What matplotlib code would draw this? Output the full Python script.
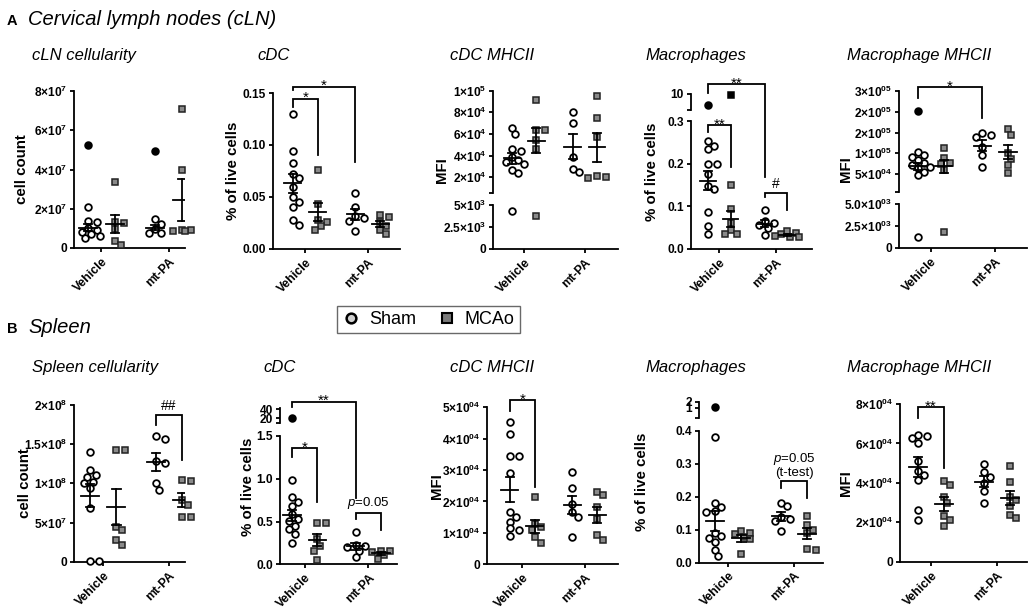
#!/usr/bin/env python3
"""Grouped scatter panels (mean +/- SEM) for cLN and spleen myeloid cells."""

import numpy as np
import matplotlib

matplotlib.use("Agg")
import matplotlib.pyplot as plt  # noqa: E402
from matplotlib.lines import Line2D  # noqa: E402
from matplotlib.ticker import NullLocator  # noqa: E402

plt.rcParams["font.family"] = ["Liberation Sans", "DejaVu Sans"]
plt.rcParams["mathtext.fontset"] = "custom"
plt.rcParams["mathtext.rm"] = "Liberation Sans:bold"
plt.rcParams["mathtext.bf"] = "Liberation Sans:bold"
plt.rcParams["mathtext.it"] = "Liberation Sans:italic"
plt.rcParams["mathtext.default"] = "rm"

W, H = 1030, 609
LW = 1.3

groups = ["Vehicle", "mt-PA"]
series = ["Sham", "MCAo"]

# ---- A: cervical lymph nodes. each list = [Vehicle, mt-PA]
cln_cells_sham = [[2.1e7, 1.4e7, 1.3e7, 1.0e7, 0.9e7, 0.8e7, 0.7e7, 0.6e7, 0.5e7],
                  [1.48e7, 1.22e7, 0.95e7, 0.78e7, 0.75e7]]
cln_cells_mcao = [[3.35e7, 1.34e7, 1.29e7, 0.95e7, 0.37e7, 0.15e7],
                  [7.1e7, 4.0e7, 0.9e7, 0.9e7, 0.85e7, 0.85e7]]
# filled (excluded) points: sham-veh, mcao-veh, sham-mtpa, mcao-mtpa
cln_cells_excl = [[5.25e7], [], [4.95e7], []]

cln_cdc_sham = [[0.130, 0.094, 0.083, 0.072, 0.068, 0.060, 0.050, 0.045, 0.040, 0.028, 0.023],
                [0.054, 0.040, 0.032, 0.030, 0.027, 0.017]]
cln_cdc_mcao = [[0.076, 0.043, 0.028, 0.026, 0.022, 0.018],
                [0.033, 0.031, 0.026, 0.022, 0.018, 0.014]]

cln_cdc_mhc_sham = [[6.6e4, 6.0e4, 4.6e4, 4.4e4, 3.9e4, 3.6e4, 3.4e4, 3.2e4, 2.7e4, 2.4e4, 4.3e3],
                    [8.0e4, 7.0e4, 3.9e4, 2.75e4, 2.5e4]]
cln_cdc_mhc_mcao = [[9.1e4, 6.4e4, 6.4e4, 5.4e4, 4.6e4, 3.7e3],
                    [9.5e4, 7.5e4, 5.75e4, 2.1e4, 2.0e4, 1.9e4]]

cln_mac_sham = [[0.252, 0.242, 0.234, 0.200, 0.200, 0.175, 0.148, 0.140, 0.086, 0.055, 0.034],
                [0.092, 0.065, 0.060, 0.057, 0.050, 0.032]]
cln_mac_mcao = [[0.150, 0.094, 0.060, 0.044, 0.036, 0.034],
                [0.042, 0.038, 0.035, 0.030, 0.028, 0.028]]
cln_mac_excl = [[4.0], [9.4], [], []]

cln_mac_mhc_sham = [[1.04e5, 9.6e4, 9.2e4, 8.4e4, 7.6e4, 7.2e4, 6.8e4, 6.4e4, 5.6e4, 4.8e4, 1.2e3],
                    [1.48e5, 1.44e5, 1.40e5, 1.16e5, 9.6e4, 6.8e4]]
cln_mac_mhc_mcao = [[1.12e5, 8.8e4, 7.7e4, 7.4e4, 6.0e4, 1.85e3],
                    [1.58e5, 1.44e5, 1.0e5, 8.6e4, 7.2e4, 5.3e4]]
cln_mac_mhc_excl = [[2.03e5], [], [], []]

# ---- B: spleen
spl_cells_sham = [[1.40e8, 1.17e8, 1.11e8, 1.085e8, 1.02e8, 1.0e8, 0.936e8, 0.68e8, 0.01e8, 0.01e8],
                  [1.60e8, 1.57e8, 1.28e8, 1.26e8, 1.0e8, 0.92e8]]
spl_cells_mcao = [[1.43e8, 1.43e8, 0.447e8, 0.40e8, 0.277e8, 0.213e8],
                  [1.04e8, 1.03e8, 0.79e8, 0.72e8, 0.575e8, 0.57e8]]

spl_cdc_sham = [[0.99, 0.79, 0.73, 0.68, 0.59, 0.53, 0.51, 0.45, 0.41, 0.36, 0.25],
                [0.38, 0.22, 0.21, 0.20, 0.16, 0.09]]
spl_cdc_mcao = [[0.485, 0.485, 0.29, 0.215, 0.16, 0.05],
                [0.16, 0.155, 0.147, 0.11, 0.06]]
spl_cdc_excl = [[21.0], [], [], []]

spl_cdc_mhc_sham = [[4.54e4, 4.15e4, 3.45e4, 3.45e4, 2.9e4, 1.68e4, 1.52e4, 1.36e4, 1.15e4, 1.09e4, 0.9e4],
                    [2.95e4, 2.42e4, 1.92e4, 1.68e4, 1.52e4, 0.88e4]]
spl_cdc_mhc_mcao = [[2.13e4, 1.28e4, 1.2e4, 1.09e4, 0.86e4, 0.69e4],
                    [2.31e4, 2.2e4, 1.82e4, 1.43e4, 0.93e4, 0.77e4]]

spl_mac_sham = [[0.38, 0.182, 0.167, 0.155, 0.152, 0.09, 0.08, 0.075, 0.061, 0.037, 0.019],
                [0.18, 0.17, 0.138, 0.132, 0.125, 0.095]]
spl_mac_mcao = [[0.097, 0.09, 0.085, 0.078, 0.07, 0.025],
                [0.142, 0.113, 0.098, 0.09, 0.042, 0.037]]
spl_mac_excl = [[1.2], [], [], []]

spl_mac_mhc_sham = [[6.45e4, 6.4e4, 6.3e4, 6.0e4, 5.1e4, 4.6e4, 4.4e4, 4.15e4, 2.6e4, 2.1e4],
                    [4.95e4, 4.55e4, 4.3e4, 4.0e4, 3.6e4, 3.0e4]]
spl_mac_mhc_mcao = [[4.1e4, 3.9e4, 3.3e4, 2.98e4, 2.3e4, 2.1e4, 1.8e4],
                    [4.85e4, 4.06e4, 3.3e4, 3.15e4, 2.82e4, 2.37e4, 2.2e4]]

NO_EXCL = [[], [], [], []]

# x positions: sham-veh, mcao-veh, sham-mtpa, mcao-mtpa
POS = [0.0, 1.0, 2.5, 3.5]
TICKS = [0.5, 3.0]


def sci(m, e):
    return f"{m}×10$^{{{e}}}$"


PVAL = "$\\mathit{p}$=0.05"

# layout in pixels (x from left, y from top); broken axes use knots (data, px above bottom)
PANELS = [
    dict(sham=cln_cells_sham, mcao=cln_cells_mcao, excl=cln_cells_excl,
         left=74, right=185, ybot=248, ytop=91, ymax=8e7,
         yticks=[0, 2e7, 4e7, 6e7, 8e7],
         ylabels=["0", sci(2, 7), sci(4, 7), sci(6, 7), sci(8, 7)],
         ylabel="cell count", ylab_x=22, title="cLN cellularity", title_xy=(32, 60),
         xlim=(-0.52, 3.61), brackets=[]),
    dict(sham=cln_cdc_sham, mcao=cln_cdc_mcao, excl=NO_EXCL,
         left=273, right=400, ybot=249, ytop=93, ymax=0.15,
         yticks=[0, 0.05, 0.10, 0.15], ylabels=["0.00", "0.05", "0.10", "0.15"],
         ylabel="% of live cells", ylab_x=233, title="cDC", title_xy=(257, 60),
         xlim=(-0.8, 4.3),
         brackets=[(0, 1, 0.1446, 0.137, 0.090, "*"), (0, 2, 0.156, 0.1526, 0.084, "*")]),
    dict(sham=cln_cdc_mhc_sham, mcao=cln_cdc_mhc_mcao, excl=NO_EXCL,
         left=493, right=618, ybot=249,
         knots=([0, 5e3, 5.5e3, 1e5], [0, 44, 56, 158.3]), gap=(5e3, 5.5e3),
         yticks=[0, 2.5e3, 5e3, 5.5e3, 2e4, 4e4, 6e4, 8e4, 1e5],
         ylabels=["0", sci(2.5, 3), sci(5, 3), "", sci(2, 4), sci(4, 4), sci(6, 4),
                  sci(8, 4), sci(1, 5)],
         ylabel="MFI", ylab_x=442, title="cDC MHCII", title_xy=(450, 60),
         xlim=(-0.78, 4.36), brackets=[]),
    dict(sham=cln_mac_sham, mcao=cln_mac_mcao, excl=cln_mac_excl,
         left=691, right=812, ybot=249,
         knots=([0, 0.3, 1, 10], [0, 128, 139, 155]), gap=(0.3, 1),
         yticks=[0, 0.1, 0.2, 0.3, 1, 10], ylabels=["0.0", "0.1", "0.2", "0.3", "", "10"],
         ylabel="% of live cells", ylab_x=652, title="Macrophages", title_xy=(645, 60),
         xlim=(-0.75, 4.6),
         brackets=[(0, 2, 15.6, 10.56, 0.169, "**"), (0, 1, 0.2906, 0.274, 0.192, "**"),
                   (2, 3, 0.131, 0.122, 0.0914, "#")]),
    dict(sham=cln_mac_mhc_sham, mcao=cln_mac_mhc_mcao, excl=cln_mac_mhc_excl,
         left=899, right=1027, ybot=248,
         knots=([0, 5e3, 5.5e3, 2.5e5], [0, 44, 55.5, 157]), gap=(5e3, 5.5e3),
         yticks=[0, 2.5e3, 5e3, 5.5e3, 5e4, 1e5, 1.5e5, 2e5, 2.5e5],
         ylabels=["0", sci(2.5, "03"), sci("5.0", "03"), "", sci(5, "04"), sci(1, "05"),
                  sci(2, "05"), sci(2, "05"), sci(3, "05")],
         ylabel="MFI", ylab_x=846, title="Macrophage MHCII", title_xy=(847, 60),
         xlim=(-0.74, 4.24), brackets=[(0, 2, 2.596e5, 2.33e5, 1.85e5, "*")]),
    dict(sham=spl_cells_sham, mcao=spl_cells_mcao, excl=NO_EXCL,
         left=74, right=185, ybot=561.7, ytop=405, ymax=2e8,
         yticks=[0, 5e7, 1e8, 1.5e8, 2e8],
         ylabels=["0", sci(5, 7), sci(1, 8), sci(1.5, 8), sci(2, 8)],
         ylabel="cell count", ylab_x=25, title="Spleen cellularity", title_xy=(32, 371.7),
         xlim=(-0.61, 3.61), brackets=[(2, 3, 1.872e8, 1.745e8, 1.30e8, "##")]),
    dict(sham=spl_cdc_sham, mcao=spl_cdc_mcao, excl=spl_cdc_excl,
         left=280, right=397, ybot=564.3,
         knots=([0, 1.5, 10, 42], [0, 128.3, 141.5, 155.9]), gap=(1.5, 10),
         yticks=[0, 0.5, 1.0, 1.5, 10, 20, 40],
         ylabels=["0.0", "0.5", "1.0", "1.5", "", "20", "40"],
         ylabel="% of live cells", ylab_x=248, title="cDC", title_xy=(263, 371.7),
         xlim=(-0.47, 4.13),
         brackets=[(0, 2, 56.9, 45.8, 0.772, "**"), (0, 1, 1.356, 1.258, 0.732, "*"),
                   (2, 3, 0.596, 0.526, 0.401, PVAL)]),
    dict(sham=spl_cdc_mhc_sham, mcao=spl_cdc_mhc_mcao, excl=NO_EXCL,
         left=487, right=618, ybot=564.3, ytop=407.3, ymax=5e4,
         yticks=[0, 1e4, 2e4, 3e4, 4e4, 5e4],
         ylabels=["0"] + [sci(k, "04") for k in range(1, 6)],
         ylabel="MFI", ylab_x=437, title="cDC MHCII", title_xy=(450, 371.7),
         xlim=(-0.92, 4.34), brackets=[(0, 1, 5.23e4, 4.89e4, 2.47e4, "*")]),
    dict(sham=spl_mac_sham, mcao=spl_mac_mcao, excl=spl_mac_excl,
         left=699, right=823, ybot=562.5,
         knots=([0, 0.4, 0.5, 1, 2], [0, 131.8, 144.2, 154.8, 160.8]), gap=(0.4, 0.5),
         yticks=[0, 0.1, 0.2, 0.3, 0.4, 0.5, 1, 2],
         ylabels=["0.0", "0.1", "0.2", "0.3", "0.4", "", "1", "2"],
         ylabel="% of live cells", ylab_x=642, title="Macrophages", title_xy=(645, 371.7),
         xlim=(-0.61, 4.1),
         brackets=[(2, 3, 0.246, 0.226, 0.195, PVAL + "\n(t-test)")]),
    dict(sham=spl_mac_mhc_sham, mcao=spl_mac_mhc_mcao, excl=NO_EXCL,
         left=900, right=1027, ybot=561.7, ytop=404, ymax=8e4,
         yticks=[0, 2e4, 4e4, 6e4, 8e4],
         ylabels=["0"] + [sci(k, "04") for k in (2, 4, 6, 8)],
         ylabel="MFI", ylab_x=846, title="Macrophage MHCII", title_xy=(847, 371.7),
         xlim=(-0.68, 4.14), brackets=[(0, 1, 7.83e4, 7.27e4, 4.73e4, "**")]),
]

SHAM_STYLE = dict(marker="o", ms=4.8, mfc="white", mec="black", mew=1.3)
MCAO_STYLE = dict(marker="s", ms=4.6, mfc="#8a8a8a", mec="#222222", mew=1.1)


def make_scale(knots):
    """Piecewise-linear forward/inverse pair for a broken y axis."""
    d = np.asarray(knots[0], float)
    p = np.asarray(knots[1], float)
    span = d[-1] - d[0]
    s0 = (p[1] - p[0]) / (d[1] - d[0])
    s1 = (p[-1] - p[-2]) / (d[-1] - d[-2])
    dd = np.concatenate([[d[0] - 50 * span], d, [d[-1] + 50 * span]])
    pp = np.concatenate([[p[0] - 50 * span * s0], p, [p[-1] + 50 * span * s1]])
    return (lambda y: np.interp(y, dd, pp)), (lambda q: np.interp(q, pp, dd))


def swarm_x(ax, xc, ys, diam=6.5, step=3.0, max_k=4):
    """Spread points sideways, GraphPad-like, allowing overlap when crowded."""
    ys = np.asarray(ys, float)
    disp = ax.transData.transform(np.column_stack([np.full(len(ys), xc), ys]))
    yp = disp[:, 1]
    ppu = ax.transData.transform([(1, 0)])[0, 0] - ax.transData.transform([(0, 0)])[0, 0]
    cands = [0.0] + [s * k * step for k in range(1, max_k + 1) for s in (1, -1)]
    placed = []
    xs = np.empty(len(ys))
    for i in np.argsort(-yp):
        best, best_d = 0.0, -1.0
        for off in cands:
            dmin = min((np.hypot(off - px, yp[i] - py) for px, py in placed), default=1e9)
            if dmin >= diam:
                best = off
                break
            if dmin > best_d:
                best, best_d = off, dmin
        placed.append((best, yp[i]))
        xs[i] = xc + best / ppu
    return xs


def draw_panel(fig, cfg):
    left, right, ybot = cfg["left"], cfg["right"], cfg["ybot"]
    broken = "knots" in cfg
    height = cfg["knots"][1][-1] if broken else ybot - cfg["ytop"]
    ax = fig.add_axes([left / W, (H - ybot) / H, (right - left) / W, height / H])
    ax.spines[["top", "right"]].set_visible(False)
    for sp in ax.spines.values():
        sp.set_linewidth(LW)

    if broken:
        fwd, inv = make_scale(cfg["knots"])
        ax.set_yscale("function", functions=(fwd, inv))
        y0, y1 = cfg["knots"][0][0], cfg["knots"][0][-1]
        ax.set_ylim(y0, y1)
        ax.spines["left"].set_visible(False)
        lo, hi = cfg["gap"]
        for a, b in [(y0, lo), (hi, y1)]:
            ax.plot([0, 0], [a, b], transform=ax.get_yaxis_transform(), color="black",
                    lw=LW, clip_on=False, solid_capstyle="projecting")
    else:
        ax.set_ylim(0, cfg["ymax"])
    ax.set_xlim(*cfg["xlim"])

    ax.set_yticks(cfg["yticks"])
    ax.set_yticklabels(cfg["ylabels"], fontweight="bold", fontsize=8.6)
    ax.yaxis.set_minor_locator(NullLocator())
    ax.set_xticks(TICKS)
    ax.set_xticklabels(groups, rotation=45, ha="right", rotation_mode="anchor",
                       fontweight="bold", fontsize=8.8)
    ax.tick_params(direction="out", length=3, width=LW)
    ax.tick_params(axis="y", pad=2)
    ax.tick_params(axis="x", pad=2.5)

    ax.set_ylabel(cfg["ylabel"], fontweight="bold", fontsize=10.8)
    ax.yaxis.set_label_coords((cfg["ylab_x"] - left) / (right - left), 0.5)
    ax.yaxis.label.set_va("center")

    values = [cfg["sham"][0], cfg["mcao"][0], cfg["sham"][1], cfg["mcao"][1]]
    for k, vals in enumerate(values):
        vals = np.asarray(vals, float)
        style = SHAM_STYLE if k % 2 == 0 else MCAO_STYLE
        ax.plot(swarm_x(ax, POS[k], vals), vals, ls="none", zorder=3, clip_on=False, **style)
        mean = vals.mean()
        sem = vals.std(ddof=1) / np.sqrt(len(vals))
        xc = POS[k]
        ax.plot([xc - 0.34, xc + 0.34], [mean, mean], color="black", lw=LW, zorder=4)
        ax.plot([xc, xc], [mean - sem, mean + sem], color="black", lw=LW, zorder=4)
        for yv in (mean - sem, mean + sem):
            ax.plot([xc - 0.16, xc + 0.16], [yv, yv], color="black", lw=LW, zorder=4)
        excl = cfg["excl"][k]
        if excl:
            st = dict(style, mfc="black", mec="black")
            ax.plot([xc] * len(excl), excl, ls="none", zorder=3, clip_on=False, **st)

    for i0, i1, yt, yl, yr, lab in cfg["brackets"]:
        x0, x1 = POS[i0], POS[i1]
        ax.plot([x0, x0, x1, x1], [yl, yt, yt, yr], color="black", lw=LW,
                clip_on=False, solid_joinstyle="miter")
        xm = (x0 + x1) / 2
        if set(lab) == {"*"}:
            ax.annotate(lab, (xm, yt), xytext=(0, -2.5), textcoords="offset points",
                        ha="center", va="baseline", fontsize=11, annotation_clip=False)
        elif set(lab) == {"#"}:
            ax.annotate(lab, (xm, yt), xytext=(0, 1.5), textcoords="offset points",
                        ha="center", va="bottom", fontsize=10, annotation_clip=False)
        else:
            ax.annotate(lab, (xm, yt), xytext=(0, 2), textcoords="offset points",
                        ha="center", va="bottom", fontsize=9.5, linespacing=1.0,
                        annotation_clip=False)

    tx, ty = cfg["title_xy"]
    fig.text(tx / W, 1 - ty / H, cfg["title"], style="italic", fontsize=12, va="baseline")
    return ax


def main():
    fig = plt.figure(figsize=(W / 100, H / 100), dpi=100)

    for letter, text, y in [("A", "Cervical lymph nodes (cLN)", 25), ("B", "Spleen", 333)]:
        fig.text(7 / W, 1 - y / H, letter, fontweight="bold", fontsize=10.5, va="baseline")
        fig.text(28 / W, 1 - y / H, text, style="italic", fontsize=14.5, va="baseline")

    for cfg in PANELS:
        draw_panel(fig, cfg)

    handles = [
        Line2D([], [], ls="none", marker="o", ms=7, mfc="#d0d0d0", mec="black", mew=1.8),
        Line2D([], [], ls="none", marker="s", ms=7, mfc="#7a7a7a", mec="black", mew=1.5),
    ]
    leg = fig.legend(handles, series, loc="center", bbox_to_anchor=(428.5 / W, 1 - 319.5 / H),
                     ncol=2, frameon=True, fancybox=False, edgecolor="#444444", fontsize=13,
                     handlelength=1.0, handletextpad=0.5, columnspacing=1.2, borderpad=0.3)
    leg.get_frame().set_linewidth(1.0)

    fig.savefig("out.png", dpi=100)
    plt.close(fig)


if __name__ == "__main__":
    main()
